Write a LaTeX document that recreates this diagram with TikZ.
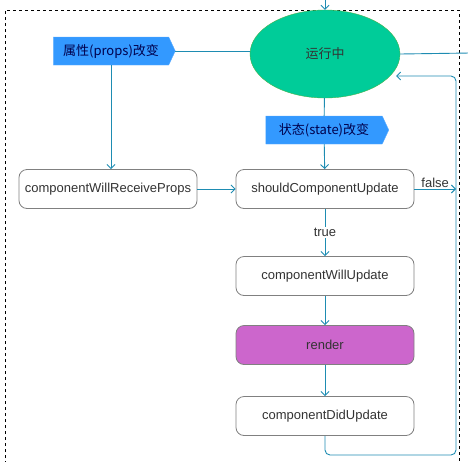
\documentclass[tikz,border=0pt]{standalone}
\usepackage{fontspec}
\setmainfont{Liberation Sans}
\newfontfamily\cjk{Noto Sans CJK SC}
\usetikzlibrary{arrows.meta,shapes.geometric,shapes.symbols}
\definecolor{flow}{RGB}{30,140,178}
\definecolor{runfill}{RGB}{0,204,153}
\definecolor{tagfill}{RGB}{51,153,255}
\definecolor{renderfill}{RGB}{204,102,204}
\definecolor{txt}{RGB}{51,51,51}
\begin{document}
\begin{tikzpicture}[x=1pt, y=-1pt,
  every node/.style={font=\fontsize{13}{15}\selectfont, text=txt},
  box/.style={rectangle, rounded corners=8pt, draw=gray, line width=0.8pt, fill=white, minimum width=178pt, minimum height=39pt},
  tag/.style={signal, signal to=east, signal pointer angle=130, fill=tagfill, draw=tagfill!80!white, minimum height=28pt, text=blue!30!black, font=\cjk\fontsize{13}{15}\selectfont},
  link/.style={draw=flow, line width=0.9pt},
  go/.style={link, -{Straight Barb[length=4pt,width=8pt]}}]
  \useasboundingbox (0,0) rectangle (468,461);
  \draw[dashed, line width=0.6pt] (5,470) -- (5,10) -- (459,10) -- (459,470);

  \node[ellipse, fill=runfill, draw=green!40!gray, minimum width=150pt, minimum height=88pt, font=\cjk\fontsize{13}{15}\selectfont] (run) at (325,54) {运行中};
  \node[tag, minimum width=122pt] (props) at (111,51) {属性(props)改变};
  \node[tag, minimum width=123pt] (state) at (324,130) {状态(state)改变};
  \node[box] (cwrp) at (108,189) {componentWillReceiveProps};
  \node[box] (scu) at (325,189) {shouldComponentUpdate};
  \node[box] (cwu) at (325,276) {componentWillUpdate};
  \node[box, fill=renderfill] (render) at (325,345) {render};
  \node[box] (cdu) at (325,416) {componentDidUpdate};

  \coordinate (in) at (325,-5);
  \coordinate (out) at (470,53);
  \coordinate (back) at (456,189);

  \draw[go] (in) -- (run);
  \draw[link] (run.east) -- (out);
  \draw[link] (props.east) -- (props.east -| run.west);
  \draw[go] (props.south) -- (props.south |- cwrp.north);
  \draw[link] (run) -- (state);
  \draw[go] (state) -- (scu);
  \draw[go] (cwrp) -- (scu);
  \draw[go] (scu) -- node[fill=white, inner sep=1pt] {true} (cwu);
  \draw[go] (cwu) -- (render);
  \draw[go] (render) -- (cdu);
  \draw[go] (scu) -- node[above, inner sep=1pt] {false} (back);
  \draw[go, rounded corners=5pt] (cdu.south) |- (456,455) -- (456,76) -- (396,76);
\end{tikzpicture}
\end{document}
